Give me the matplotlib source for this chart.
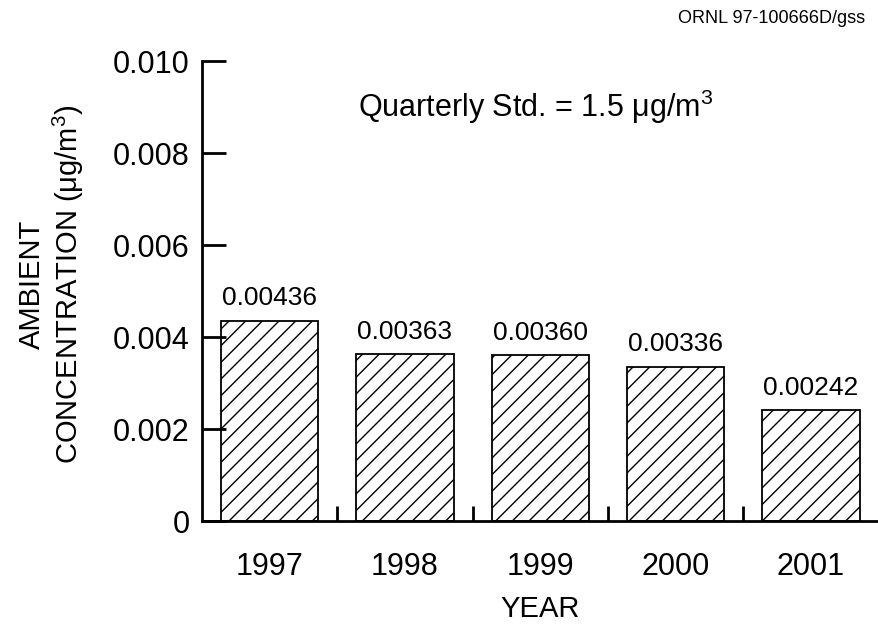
import matplotlib
matplotlib.use("Agg")
import matplotlib.pyplot as plt
import numpy as np

plt.rcParams['font.family'] = ['Liberation Sans', 'DejaVu Sans']
plt.rcParams['mathtext.fontset'] = 'custom'
plt.rcParams['mathtext.rm'] = 'Liberation Sans'
plt.rcParams['mathtext.it'] = 'Liberation Sans:italic'
plt.rcParams['hatch.linewidth'] = 1.0

# ambient concentration by year (ug/m3)
years = ['1997', '1998', '1999', '2000', '2001']
conc = [0.00436, 0.00363, 0.00360, 0.00336, 0.00242]
value_labels = ['0.00436', '0.00363', '0.00360', '0.00336', '0.00242']
yticks = [0, 0.002, 0.004, 0.006, 0.008, 0.010]
ytick_labels = ['0', '0.002', '0.004', '0.006', '0.008', '0.010']

fig = plt.figure(figsize=(8.79, 6.24), dpi=100)
ax = fig.add_axes([0.2298, 0.165, 0.7697, 0.737])

x = np.arange(len(years))
ax.bar(x, conc, width=0.72, facecolor='white', edgecolor='black',
       linewidth=1.3, hatch='//')

for xi, v, lab in zip(x, conc, value_labels):
    ax.text(xi, v + 0.00022, lab, ha='center', va='bottom', fontsize=19)

ax.set_xlim(-0.5, 4.5)
ax.set_ylim(0, 0.010)

ax.set_xticks(x)
ax.set_xticklabels(years, fontsize=22)
ax.set_xticks(np.arange(0.5, 4.6, 1.0), minor=True)
ax.tick_params(axis='x', which='major', length=0, pad=22)
ax.tick_params(axis='x', which='minor', direction='in', length=11, width=2)

ax.set_yticks(yticks)
ax.set_yticklabels(ytick_labels, fontsize=22)
ax.tick_params(axis='y', direction='in', length=17, width=2, pad=9)

for s in ['top', 'right']:
    ax.spines[s].set_visible(False)
for s in ['left', 'bottom']:
    ax.spines[s].set_linewidth(2)

ax.set_xlabel('YEAR', fontsize=21, labelpad=10)
ax.set_ylabel('AMBIENT\nCONCENTRATION (\u03bcg/m$^3$)', fontsize=21,
              linespacing=1.15)
ax.yaxis.set_label_coords(-0.172, 0.515)

ax.text(0.653, 0.0090, 'Quarterly Std. = 1.5 \u03bcg/m$^3$', fontsize=22,
        ha='left', va='center')

fig.text(0.984, 0.97, 'ORNL 97-100666D/gss', fontsize=13, ha='right', va='center')

fig.savefig('out.png', dpi=100)
